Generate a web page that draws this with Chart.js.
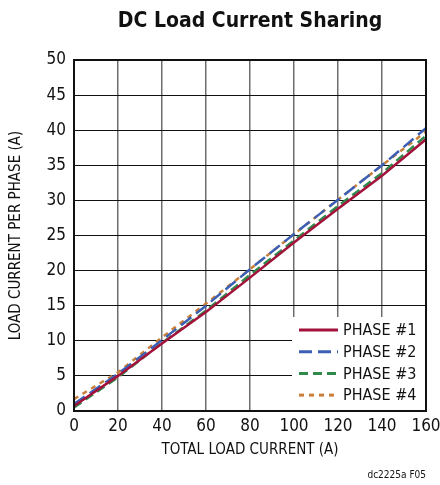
<!DOCTYPE html>
<html>
<head>
<meta charset="utf-8">
<script src="https://cdn.jsdelivr.net/npm/chart.js@4/dist/chart.umd.min.js"></script>
<style>
  html, body { margin: 0; padding: 0; background: #fff; }
  #wrap { width: 440px; height: 485px; position: relative; }
</style>
</head>
<body>
<div id="wrap"><canvas id="dc-sharing-chart"></canvas></div>
<script>
'use strict';

// total load current (A)
var totalCurrent = [0, 20, 40, 60, 80, 100, 120, 140, 160];
// per-phase current (A)
var phase1 = [0.7, 5.0, 9.6, 14.1, 19.0, 24.0, 28.8, 33.5, 38.7];
var phase2 = [1.0, 5.3, 10.1, 15.0, 20.2, 25.2, 30.1, 35.0, 40.3];
var phase3 = [0.5, 4.8, 9.7, 14.3, 19.4, 24.3, 29.2, 33.9, 39.2];
var phase4 = [1.7, 5.5, 10.5, 15.3, 20.2, 25.2, 30.1, 35.0, 39.8];
var phaseLabels = ['PHASE #1', 'PHASE #2', 'PHASE #3', 'PHASE #4'];

var FONT = "'Liberation Sans Narrow', 'DejaVu Sans Condensed', 'Roboto', sans-serif";

function toPoints(ys) {
	return ys.map(function(y, i) { return { x: totalCurrent[i], y: y }; });
}

// legend drawn inside the plot area, bottom right
var insideLegend = {
	id: 'insideLegend',
	afterDatasetsDraw: function(chart) {
		var ctx = chart.ctx, area = chart.chartArea;
		var left = area.right - 134, top = area.bottom - 94;
		ctx.save();
		ctx.fillStyle = '#fff';
		ctx.fillRect(left, top, area.right - left - 1, area.bottom - top - 1);
		ctx.font = '16px ' + FONT;
		ctx.textBaseline = 'middle';
		chart.data.datasets.forEach(function(ds, i) {
			var y = top + 13 + i * 21.7;
			ctx.strokeStyle = ds.borderColor;
			ctx.lineWidth = 3;
			ctx.setLineDash(ds.borderDash || []);
			ctx.beginPath();
			ctx.moveTo(left + 7, y);
			ctx.lineTo(left + 46, y);
			ctx.stroke();
			ctx.setLineDash([]);
			ctx.fillStyle = '#111';
			ctx.fillText(ds.label, left + 51, y + 1);
		});
		ctx.restore();
	}
};

// title, frame and figure code
var decorations = {
	id: 'decorations',
	afterDraw: function(chart) {
		var ctx = chart.ctx, area = chart.chartArea;
		ctx.save();
		ctx.strokeStyle = '#111';
		ctx.lineWidth = 2;
		ctx.strokeRect(area.left, area.top, area.right - area.left, area.bottom - area.top);
		ctx.fillStyle = '#111';
		ctx.textAlign = 'center';
		ctx.textBaseline = 'middle';
		ctx.font = 'bold 21px ' + FONT;
		ctx.fillText('DC Load Current Sharing', 250, 22);
		ctx.textAlign = 'right';
		ctx.font = '10px ' + FONT;
		ctx.fillText('dc2225a F05', 426, 475);
		ctx.restore();
	}
};

function noEdgePadding(scale) {
	scale.paddingLeft = 0;
	scale.paddingRight = 0;
	scale.paddingTop = 0;
	scale.paddingBottom = 0;
}

var config = {
	type: 'line',
	data: {
		datasets: [{
			label: phaseLabels[0],
			data: toPoints(phase1),
			borderColor: '#a3123a',
			borderWidth: 2.5
		}, {
			label: phaseLabels[1],
			data: toPoints(phase2),
			borderColor: '#3b5fb5',
			borderWidth: 2.5,
			borderDash: [13, 6]
		}, {
			label: phaseLabels[2],
			data: toPoints(phase3),
			borderColor: '#2f8a4c',
			borderWidth: 2.5,
			borderDash: [9, 5]
		}, {
			label: phaseLabels[3],
			data: toPoints(phase4),
			borderColor: '#c97f3a',
			borderWidth: 2.5,
			borderDash: [5, 5]
		}]
	},
	options: {
		responsive: false,
		animation: false,
		layout: { padding: { left: 0, right: 14, top: 60, bottom: 22 } },
		elements: { point: { radius: 0 }, line: { tension: 0 } },
		plugins: {
			legend: { display: false },
			title: { display: false },
			tooltip: { enabled: false }
		},
		scales: {
			x: {
				type: 'linear',
				min: 0, max: 160,
				ticks: { stepSize: 20, color: '#111', font: { family: FONT, size: 17 }, padding: 5 },
				grid: { color: '#6e6e6e', lineWidth: 1.5, drawTicks: false },
				border: { display: false },
				title: { display: true, text: 'TOTAL LOAD CURRENT (A)', color: '#111', font: { family: FONT, size: 15 }, padding: { top: 2 } },
				afterFit: function(scale) { scale.height = 52; noEdgePadding(scale); }
			},
			y: {
				min: 0, max: 50,
				ticks: { stepSize: 5, color: '#111', font: { family: FONT, size: 17 }, padding: 8 },
				grid: { color: '#111', lineWidth: 1, drawTicks: false },
				border: { display: false },
				title: { display: true, text: 'LOAD CURRENT PER PHASE (A)', color: '#111', font: { family: FONT, size: 15 }, padding: { top: 7, bottom: 0 } },
				afterFit: function(scale) { scale.width = 74; noEdgePadding(scale); }
			}
		}
	},
	plugins: [insideLegend, decorations]
};

var canvas = document.getElementById('dc-sharing-chart');
canvas.width = 440;
canvas.height = 485;
var dcChart = new Chart(canvas.getContext('2d'), config);
</script>
</body>
</html>
